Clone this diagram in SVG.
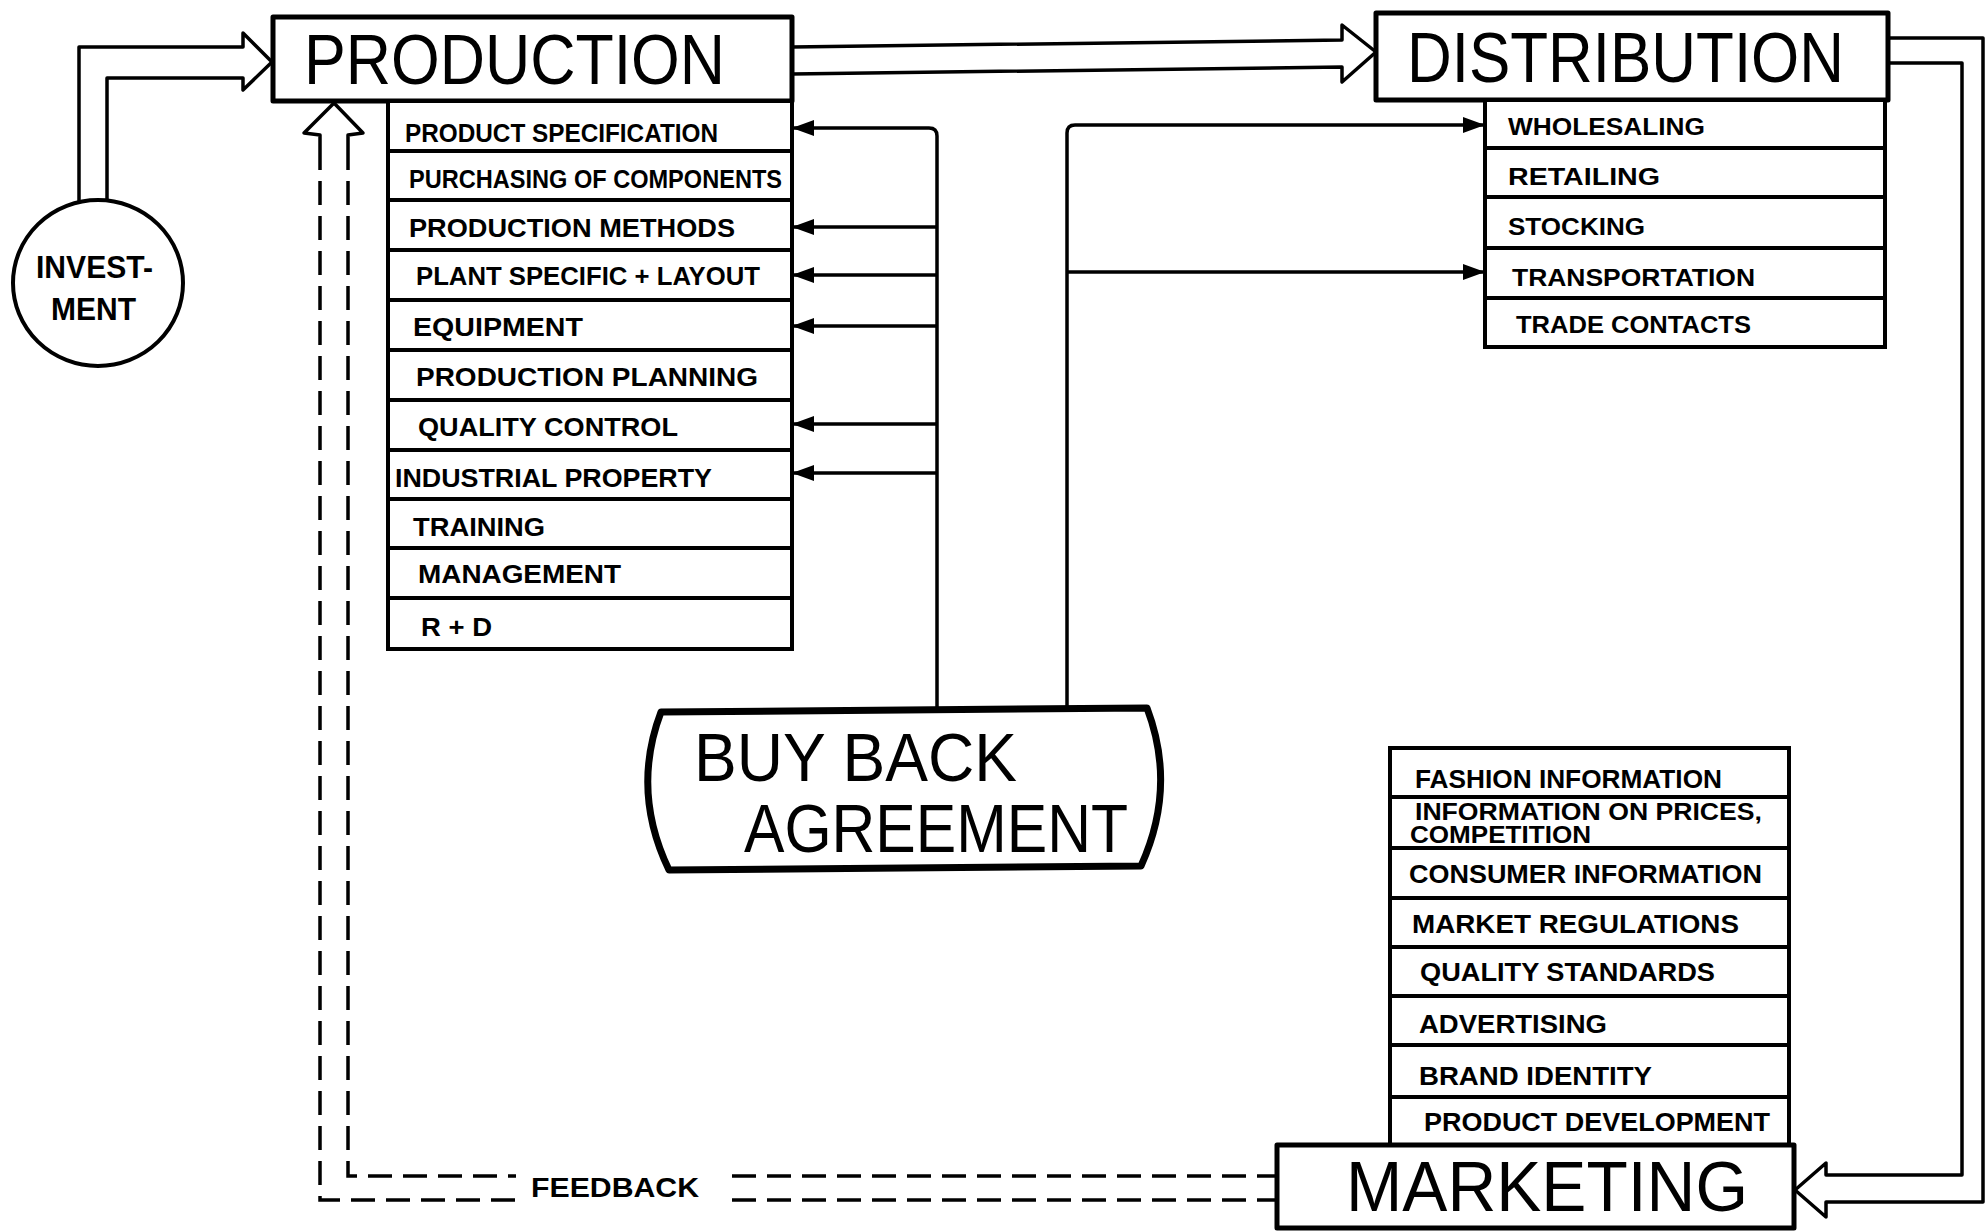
<svg xmlns="http://www.w3.org/2000/svg" width="1987" height="1231" viewBox="0 0 1987 1231">
<defs>
<style>
.box{fill:#fff;stroke:#000;stroke-width:5;stroke-linejoin:round}
.row{fill:#fff;stroke:#000;stroke-width:4}
.t{font-family:"Liberation Sans",Arial,sans-serif;fill:#000}
.big{font-size:70px}
.sm{font-size:26px;font-weight:bold}
.xs{font-size:24px;font-weight:bold}
.conn{fill:none;stroke:#000;stroke-width:3.5;stroke-linejoin:round}
.dash{fill:none;stroke:#000;stroke-width:3.5;stroke-dasharray:24 11}
</style>
<marker id="ah" viewBox="0 0 22 16" refX="21" refY="8" markerWidth="22" markerHeight="16" markerUnits="userSpaceOnUse" orient="auto">
<path d="M0,0 L22,8 L0,16 Z" fill="#000"/>
</marker>
</defs>
<rect x="0" y="0" width="1987" height="1231" fill="#fff"/>

<g id="connectors">
<path class="conn" d="M79,201 V47 H243 V33 L272,62 L243,90 V78 H107 V199"/>
<path class="conn" d="M792,47 L1342,40 V25 L1376,52 L1342,82 V67 L792,74"/>
<path class="conn" d="M1888,38 H1983 V1202 H1826 V1217 L1795,1190 L1826,1163 V1175 H1962 V63 H1888"/>
<path class="conn" d="M320,146 V135 L304,133 L334,103 L363,133 L348,135 V146"/>
<path class="dash" d="M320,146 V1200 H516"/>
<path class="dash" d="M348,146 V1176 H516"/>
<path class="dash" d="M732,1200 H1277"/>
<path class="dash" d="M732,1176 H1277"/>
<path class="conn" d="M937,711 V136 Q937,128 929,128 H793" marker-end="url(#ah)"/>
<path class="conn" d="M937,227 H793" marker-end="url(#ah)"/>
<path class="conn" d="M937,275 H793" marker-end="url(#ah)"/>
<path class="conn" d="M937,326 H793" marker-end="url(#ah)"/>
<path class="conn" d="M937,424 H793" marker-end="url(#ah)"/>
<path class="conn" d="M937,473 H793" marker-end="url(#ah)"/>
<path class="conn" d="M1067,709 V133 Q1067,125 1075,125 H1484" marker-end="url(#ah)"/>
<path class="conn" d="M1067,272 H1484" marker-end="url(#ah)"/>
</g>

<g id="investment">
<ellipse cx="98" cy="283" rx="85" ry="83" fill="#fff" stroke="#000" stroke-width="4"/>
<text class="t" x="36" y="278" font-size="31" font-weight="bold" textLength="117" lengthAdjust="spacingAndGlyphs">INVEST-</text>
<text class="t" x="51" y="320" font-size="31" font-weight="bold" textLength="85" lengthAdjust="spacingAndGlyphs">MENT</text>
</g>

<g id="production">
<rect class="box" x="273" y="17" width="519" height="84"/>
<text class="t big" x="304" y="84" textLength="421" lengthAdjust="spacingAndGlyphs">PRODUCTION</text>
</g>
<g id="production-items">
<g id="p-product-specification"><rect class="row" x="388" y="101" width="404" height="50"/><text class="t sm" x="405" y="142" textLength="313" lengthAdjust="spacingAndGlyphs">PRODUCT SPECIFICATION</text></g>
<g id="p-purchasing"><rect class="row" x="388" y="151" width="404" height="49"/><text class="t sm" x="409" y="188" textLength="373" lengthAdjust="spacingAndGlyphs">PURCHASING OF COMPONENTS</text></g>
<g id="p-methods"><rect class="row" x="388" y="200" width="404" height="50"/><text class="t sm" x="409" y="237" textLength="326" lengthAdjust="spacingAndGlyphs">PRODUCTION METHODS</text></g>
<g id="p-plant"><rect class="row" x="388" y="250" width="404" height="50"/><text class="t sm" x="416" y="285" textLength="344" lengthAdjust="spacingAndGlyphs">PLANT SPECIFIC + LAYOUT</text></g>
<g id="p-equipment"><rect class="row" x="388" y="300" width="404" height="50"/><text class="t sm" x="413" y="336" textLength="170" lengthAdjust="spacingAndGlyphs">EQUIPMENT</text></g>
<g id="p-planning"><rect class="row" x="388" y="350" width="404" height="50"/><text class="t sm" x="416" y="386" textLength="342" lengthAdjust="spacingAndGlyphs">PRODUCTION PLANNING</text></g>
<g id="p-quality"><rect class="row" x="388" y="400" width="404" height="50"/><text class="t sm" x="418" y="436" textLength="260" lengthAdjust="spacingAndGlyphs">QUALITY CONTROL</text></g>
<g id="p-industrial"><rect class="row" x="388" y="450" width="404" height="49"/><text class="t sm" x="395" y="487" textLength="317" lengthAdjust="spacingAndGlyphs">INDUSTRIAL PROPERTY</text></g>
<g id="p-training"><rect class="row" x="388" y="499" width="404" height="49"/><text class="t sm" x="413" y="536" textLength="132" lengthAdjust="spacingAndGlyphs">TRAINING</text></g>
<g id="p-management"><rect class="row" x="388" y="548" width="404" height="50"/><text class="t sm" x="418" y="583" textLength="203" lengthAdjust="spacingAndGlyphs">MANAGEMENT</text></g>
<g id="p-rd"><rect class="row" x="388" y="598" width="404" height="51"/><text class="t sm" x="421" y="636" textLength="71" lengthAdjust="spacingAndGlyphs">R + D</text></g>
</g>

<g id="distribution">
<rect class="box" x="1376" y="13" width="512" height="87"/>
<text class="t big" x="1407" y="82" textLength="437" lengthAdjust="spacingAndGlyphs">DISTRIBUTION</text>
</g>
<g id="distribution-items">
<g id="d-wholesaling"><rect class="row" x="1485" y="100" width="400" height="48"/><text class="t xs" x="1508" y="135" textLength="197" lengthAdjust="spacingAndGlyphs">WHOLESALING</text></g>
<g id="d-retailing"><rect class="row" x="1485" y="148" width="400" height="49"/><text class="t xs" x="1508" y="185" textLength="152" lengthAdjust="spacingAndGlyphs">RETAILING</text></g>
<g id="d-stocking"><rect class="row" x="1485" y="197" width="400" height="51"/><text class="t xs" x="1508" y="235" textLength="137" lengthAdjust="spacingAndGlyphs">STOCKING</text></g>
<g id="d-transportation"><rect class="row" x="1485" y="248" width="400" height="50"/><text class="t xs" x="1512" y="286" textLength="243" lengthAdjust="spacingAndGlyphs">TRANSPORTATION</text></g>
<g id="d-trade-contacts"><rect class="row" x="1485" y="298" width="400" height="49"/><text class="t xs" x="1516" y="333" textLength="235" lengthAdjust="spacingAndGlyphs">TRADE CONTACTS</text></g>
</g>

<g id="buy-back-agreement">
<path d="M661,712 L1147,708 Q1177,787 1141,866 L669,870 Q631,791 661,712 Z" fill="#fff" stroke="#000" stroke-width="7" stroke-linejoin="round"/>
<text class="t" x="694" y="781" font-size="68" textLength="323" lengthAdjust="spacingAndGlyphs">BUY BACK</text>
<text class="t" x="744" y="852" font-size="68" textLength="384" lengthAdjust="spacingAndGlyphs">AGREEMENT</text>
</g>

<g id="marketing-items">
<g id="m-fashion"><rect class="row" x="1390" y="748" width="399" height="49"/><text class="t sm" x="1415" y="788" textLength="307" lengthAdjust="spacingAndGlyphs">FASHION INFORMATION</text></g>
<g id="m-prices"><rect class="row" x="1390" y="797" width="399" height="51"/><text class="t" x="1415" y="820" font-size="23" font-weight="bold" textLength="347" lengthAdjust="spacingAndGlyphs">INFORMATION ON PRICES,</text><text class="t" x="1410" y="843" font-size="23" font-weight="bold" textLength="181" lengthAdjust="spacingAndGlyphs">COMPETITION</text></g>
<g id="m-consumer"><rect class="row" x="1390" y="848" width="399" height="50"/><text class="t sm" x="1409" y="883" textLength="353" lengthAdjust="spacingAndGlyphs">CONSUMER INFORMATION</text></g>
<g id="m-regulations"><rect class="row" x="1390" y="898" width="399" height="49"/><text class="t sm" x="1412" y="933" textLength="327" lengthAdjust="spacingAndGlyphs">MARKET REGULATIONS</text></g>
<g id="m-quality"><rect class="row" x="1390" y="947" width="399" height="49"/><text class="t sm" x="1420" y="981" textLength="295" lengthAdjust="spacingAndGlyphs">QUALITY STANDARDS</text></g>
<g id="m-advertising"><rect class="row" x="1390" y="996" width="399" height="49"/><text class="t sm" x="1419" y="1033" textLength="188" lengthAdjust="spacingAndGlyphs">ADVERTISING</text></g>
<g id="m-brand"><rect class="row" x="1390" y="1045" width="399" height="52"/><text class="t sm" x="1419" y="1085" textLength="233" lengthAdjust="spacingAndGlyphs">BRAND IDENTITY</text></g>
<g id="m-product-dev"><rect class="row" x="1390" y="1097" width="399" height="48"/><text class="t sm" x="1424" y="1131" textLength="346" lengthAdjust="spacingAndGlyphs">PRODUCT DEVELOPMENT</text></g>
</g>
<g id="marketing">
<rect class="box" x="1277" y="1145" width="517" height="83"/>
<text class="t big" x="1346" y="1211" textLength="402" lengthAdjust="spacingAndGlyphs">MARKETING</text>
</g>

<g id="feedback-label">
<text class="t" x="531" y="1197" font-size="28" font-weight="bold" textLength="168" lengthAdjust="spacingAndGlyphs">FEEDBACK</text>
</g>
</svg>
